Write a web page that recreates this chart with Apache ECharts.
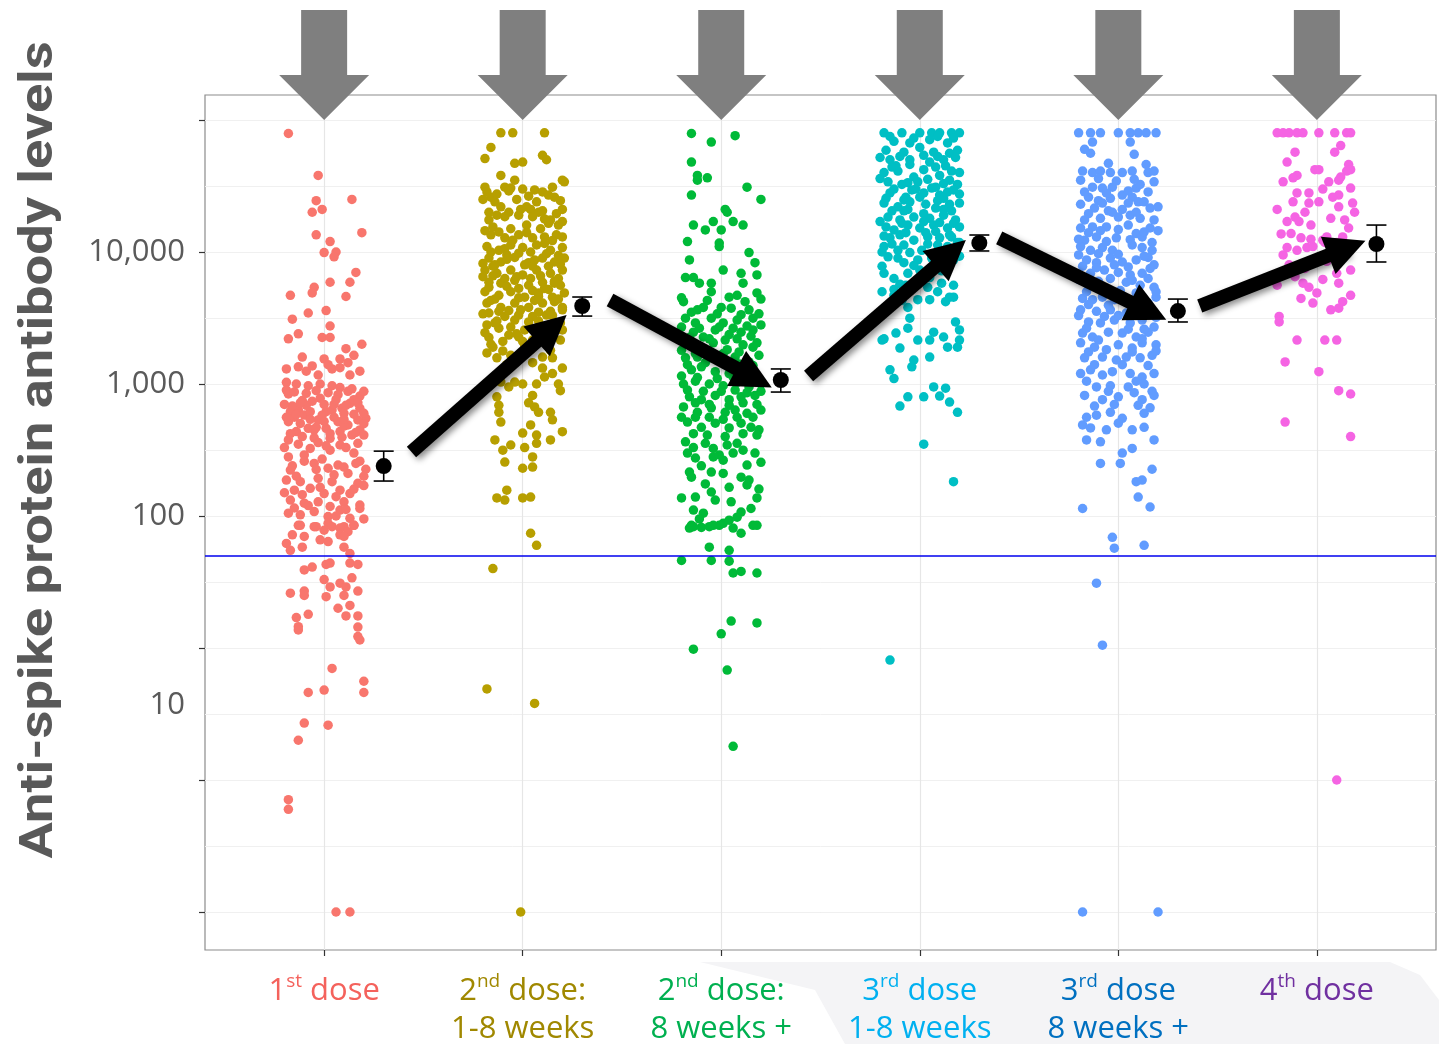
<!DOCTYPE html>
<html><head><meta charset="utf-8">
<script src="https://cdn.jsdelivr.net/npm/echarts@6/dist/echarts.min.js"></script>
<style>html,body{margin:0;padding:0;background:#fff}#c{width:1439px;height:1044px}</style>
</head><body><div id="c"></div>
<script>
// ---------- DATA ----------
const categories = [1, 2, 3, 4, 5, 6];
const doseNum = ['1', '2', '2', '3', '3', '4'];
const doseSup = ['st', 'nd', 'nd', 'rd', 'rd', 'th'];
const doseWord = [' dose', ' dose:', ' dose:', ' dose', ' dose', ' dose'];
const doseTiming = ['', '1-8 weeks', '8 weeks +', '1-8 weeks', '8 weeks +', ''];
const yTickValues = [10000, 1000, 100, 10];
const yTickTexts = ['10,000', '1,000', '100', '10'];
const yTitle = 'Anti-spike protein antibody levels';
const threshold = 50;

// jittered points: [offset from category, antibody level]
const g1 = [[-.18,79000],[-.03,38000],[-.04,24500],[-.01,21000],[-.06,20000],[.14,25000],[.19,14000],[-.04,13500],[.03,12000],[0,9900],[.06,10000],[.05,9200],[.16,7000],[.13,5900],[.03,5900],[-.05,5400],[-.06,4900],[-.17,4700],[.11,4600],[-.08,3450],[.01,3600],[-.16,3100],[.03,2750],[-.18,2200],[-.13,2400],[-.01,2250],[.03,2250],[.19,2000],[.11,1850],[.15,1650],[.08,1550],[-.11,1600],[0,1550],[-.13,1350],[-.06,1370],[.04,1300],[.08,1330],[-.03,1170],[.13,1170],[-.19,1030],[-.14,1000],[-.08,970],[-.02,1000],[.04,970],[.08,940],[.12,880],[.18,810],[-.18,840],[-.11,750],[-.02,780],
[-.17,617],[-.13,635],[-.10,582],[-.07,617],[-.03,534],[.01,617],[.04,635],[.09,655],[.13,714],[.18,655],[.21,550],[-.18,518],[-.12,503],[-.08,462],[.07,518],[.12,489],[.17,534],[.18,449],[-.14,436],[-.05,449],[.01,462],[.08,436],[.14,411],[-.18,377],[.03,388],[-.15,560],[-.01,580],[.1,600],[-.09,690],[.05,700],[.15,760],[-.16,680],[.2,600],[-.04,470],[.1,480],
[-.18,280],[-.07,325],[.03,315],[.08,345],[-.17,223],[-.05,250],[.02,230],[.07,243],[.12,210],[.21,226],[-.19,187],[-.12,182],[-.03,193],[.04,182],[.17,177],[-.15,157],[-.07,162],[0,148],[.08,157],[.13,148],[-.17,132],[-.10,125],[-.03,128],[.03,118],[.1,128],[.18,121],[-.18,105],[-.12,102],[-.05,108],[.02,99],[.08,111],[.13,96],[.18,114],[-.13,85],[-.05,83],[.02,88],[.1,83],[.15,85],[-.1,290],[.15,300],[-.01,270],[.18,260],[-.14,200],[.05,205],[.2,170],
[-.19,900],[-.15,870],[-.09,850],[-.04,890],[.02,860],[.07,830],[.14,920],[.2,880],[-.2,700],[-.12,720],[-.06,740],[0,700],[.06,760],[.11,690],[.17,720],[-.19,560],[-.14,590],[-.07,540],[0,520],[.05,560],[.1,540],[.15,590],[.2,500],[-.17,420],[-.11,400],[-.05,390],[.03,420],[.09,395],[.16,430],[.2,410],[-.2,330],[-.13,350],[-.03,360],[.01,340],[.11,330],[.17,355],[-.16,240],[-.1,260],[-.04,225],[.1,235],[.16,250],[.2,200],[-.2,150],[-.11,145],[-.02,165],[.06,140],[.15,160],[-.15,115],[-.08,120],[.06,100],[.11,112],[.2,95],[-.19,1300],[-.09,1250],[.02,1400],[.12,1450],[.18,1250],
[-.12,85],[-.04,83],[0,78],[.04,83],[.08,81],[.12,76],[.15,85],[.08,72],[.1,70],[-.16,72],[-.1,70],[-.19,62],[-.17,55],[-.11,58],[-.02,66],[.02,64],[.1,58],[.13,52],
[-.1,39],[-.06,41],[.01,43],[.03,44],[.13,44],[.17,43],[0,33],[.03,29],[.08,31],[.11,29],[.14,34],[-.17,26],[-.1,27],[.01,24.5],[.1,25],[.17,27],[-.1,25],[.07,20],[.13,21],[-.08,18],[-.14,17],[.11,17.5],[.17,17.5],[-.13,14.5],[-.13,13.7],[.17,14.4],[.17,12.2],[.18,11.5],
[.04,7.0],[.2,5.6],[.2,4.6],[-.08,4.6],[0,4.8],[-.1,2.7],[.02,2.6],[-.13,2.0],[-.18,.71],[-.18,.6],[.06,.1],[.13,.1]];

const g2 = [[-.11,80000],[-.05,80000],[.11,80000],[-.16,62000],[-.19,51000],[.10,54000],[.12,50000],[-.04,47000],[0,48000],[-.11,38000],[.20,35000],[.21,34000],[-.04,35000],[-.09,31000],[-.06,30500],[-.19,31000],[-.16,26000],[-.18,28500],[.06,29500],[.10,28500],[.15,31000],[.16,26000],[.20,21000],
[-.14,24000],[-.11,22000],[-.07,20000],[-.01,21000],[.02,22000],[.04,21000],[.08,20000],[.10,20500],[.14,17500],[-.17,17500],[.2,17000],[.02,16000],[-.06,15000],
[-.16,13500],[-.09,12800],[-.02,13500],[.05,12800],[.11,13000],[.17,13500],[.2,13000],
[-.18,11000],[-.12,10300],[-.06,11300],[0,10800],[.07,11300],[.14,10300],[.2,10800],
[-.17,9000],[-.11,8400],[-.04,9100],[.03,8300],[.10,9000],[.16,8400],[.21,9000],
[-.19,7300],[-.13,6900],[-.06,7300],[0,6700],[.07,7300],[.14,6900],[.2,7300],
[-.17,5900],[-.11,5800],[-.04,6100],[.03,5600],[.10,5900],[.16,5800],
[-.19,5000],[-.12,4700],[-.06,5000],[.01,4550],[.08,4900],[.15,4550],[.21,4900],
[-.18,4100],[-.11,3800],[-.04,4100],[.03,3800],[.10,4100],[.16,4200],[.2,3800],
[-.17,3450],[-.09,3250],[-.02,3330],[.05,3250],[.12,3330],[.2,3650],
[-.18,2800],[-.12,2650],[-.06,2700],[.01,2570],[.11,2700],[.19,2900],[.2,2570],
[-.17,2250],[-.10,2100],[-.02,2270],[.05,2150],[.12,2050],[.19,2150],
[-.18,1720],[-.13,1580],[-.06,1650],[.04,1820],[.10,1600],[.15,1580],
[.10,1320],[.20,1320],[.11,1130],[.15,1200],[.18,1000],[.19,890],
[-.11,1035],[-.07,950],[-.04,1035],[0,1000],[.07,1000],[.05,820],
[-.13,800],[-.12,690],[-.12,610],
[.03,720],[.06,670],[.08,610],[.14,610],[.15,535],
[-.11,515],[.04,490],[0,425],[.07,410],[.2,435],[.14,377],[.07,355],
[-.14,377],[-.10,315],[-.06,345],[.01,330],[.05,280],[-.09,256],[0,230],[.05,235],
[-.08,157],[-.13,137],[-.09,132],[0,137],[.04,139],
[-.15,15500],[.13,16500],[-.03,25000],[.07,24000],[-.13,19000],[.17,19500],[-.08,9500],[.12,9700],[-.15,7800],[.05,7800],[-.09,6300],[.18,6300],[-.02,5300],[.13,5200],[-.14,4400],[.06,4300],[-.07,3600],[.14,3550],[-.13,3000],[.08,3000],[-.03,2400],[.15,2400],[-.15,1900],[.01,1950],[-.08,1400],[.05,1450],
[-.2,25000],[-.13,27500],[-.07,29000],[0,30000],[.03,26500],[.13,27000],[.19,24500],[-.17,20000],[-.09,18500],[-.02,19000],[.05,18500],[.11,17800],[.18,16000],[-.19,14500],[-.12,14200],[-.05,12300],[.02,14000],[.09,15000],[.15,12200],[-.16,10000],[-.09,10600],[-.02,9800],[.04,10000],[.11,11600],[.18,9400],[-.2,8200],[-.14,8000],[-.08,8800],[.01,8000],[.06,8700],[.13,7800],[.19,8100],[-.2,6500],[-.15,6600],[-.03,6500],[.04,6300],[.09,6600],[.16,6000],[-.17,5400],[-.08,5500],[.05,5100],[.11,5300],[.19,5600],[-.16,4300],[-.02,4500],[.08,4600],[.18,4400],[-.2,3400],[-.12,3550],[-.01,3650],[.08,3500],[.15,3300],[-.14,2900],[-.04,3050],[.03,2950],[.16,2800],[-.19,2450],[-.07,2350],[.09,2450],[-.16,2000],[0,2100],[.09,2200],[-.1,1780],[.14,1800],
[.04,74],[.07,60],[-.15,40],[-.18,4.9],[.06,3.8],[-.01,.1]];

const g3 = [[-.15,79000],[.07,76000],[-.05,68000],[-.15,48000],[-.12,38000],[-.12,35000],[-.07,36500],[.13,31000],[-.15,27000],[.2,25000],[.02,21000],[.03,20000],
[-.14,16000],[-.08,14700],[-.04,17000],[0,14700],[.06,17000],[.11,16000],
[-.17,12000],[-.01,11700],[-.01,11000],[.14,9900],[.17,8300],[-.16,8700],
[.01,7300],[.1,6900],[.18,6700],[-.18,6400],[-.14,6400],[-.11,5800],[-.05,5800],[.11,5800],
[.18,4900],[.2,4400],[.08,4700],[.04,4550],[-.05,5000],
[-.19,4200],[-.12,3650],[-.09,3800],[0,3800],[.05,3750],[.14,3650],
[-.18,3150],[-.13,2900],[-.05,3150],[.01,2900],[.08,3050],[.16,3150],
[-.14,2470],[-.09,2270],[-.03,2570],[.04,2370],[.10,2470],[.16,2570],[.18,2050],
[-.17,2050],[-.10,1870],[-.04,2050],[.03,1820],[.11,1980],[.16,1900],
[-.18,1580],[-.12,1600],[-.05,1580],[0,1520],[.07,1600],[.14,1470],
[-.15,1280],[-.10,1350],[-.03,1240],[.04,1200],[.11,1280],[.17,1200],
[-.19,1000],[-.13,1050],[-.06,1000],[.01,970],[.08,1030],[.14,950],[.2,1000],
[-.16,800],[-.10,760],[-.03,820],[.04,760],[.10,800],[.17,820],
[-.19,670],[-.12,610],[-.05,660],[.02,610],[.07,635],[.13,600],[.2,635],
[-.17,515],[-.10,470],[-.03,505],[.04,465],[.10,505],[.15,470],[.19,450],
[-.18,365],[-.14,330],[-.08,355],[-.04,325],[.03,345],[.08,355],[.11,315],
[-.17,300],[-.13,275],[-.04,280],[.01,265],[.2,255],[.13,243],
[-.16,215],[-.15,197],[-.05,215],[.01,210],[.10,197],[.14,187],[.13,172],
[-.2,137],[-.13,139],[-.05,152],[-.03,132],[.05,128],[.18,137],
[-.14,111],[-.09,105],[.10,107],[.15,114],
[-.15,85],[-.1,82],[-.04,85],[.01,88],[.06,81],[.16,85],
[-.16,81],[-.14,83],[-.06,83],[-.01,85],[.04,93],[.10,74],[.18,85],
[-.2,4500],[-.07,4300],[.12,4200],[-.15,3500],[-.02,3400],[.1,3350],[.19,3400],[-.2,2700],[-.11,2650],[-.01,2700],[.06,2650],[.13,2750],[.2,2800],[-.16,2250],[-.06,2200],[.02,2150],[.08,2200],[.15,2300],[-.2,1800],[-.13,1700],[-.07,1750],[.01,1700],[.09,1750],[.19,1650],[-.17,1400],[-.08,1450],[.02,1400],[.09,1420],[.16,1380],[-.2,1150],[-.12,1120],[-.02,1100],[.06,1130],[.14,1100],[-.17,900],[-.09,880],[0,880],[.07,900],[.13,860],[.2,880],[-.13,720],[-.06,700],[.04,690],[.11,720],[.18,700],[-.2,560],[-.13,560],[-.06,560],[.01,540],[.08,560],[.16,560],[-.14,420],[-.07,410],[.02,400],[.11,420],[.18,410],[-.1,240],[-.01,290],[.06,300],[.17,300],[-.08,175],[.04,165],[.19,160],[-.11,95],[.08,98],
[-.06,58],[.04,55],[-.2,46],[-.05,46],[.04,45.5],[.06,37],[.1,38],[.18,37],
[.05,16],[.18,15.5],[0,12.8],[-.14,9.8],[.03,6.8],[.06,1.8]];

const g4 = [[-.18,80000],[-.09,80000],[0,80000],[.06,80000],[.10,80000],[.16,80000],[.2,80000],
[-.13,69000],[-.05,67000],[.05,71000],[.14,67000],
[-.17,59000],[-.08,57000],[0,62000],[.07,57000],[.15,56000],[.19,59000],
[-.15,50000],[-.05,50000],[.05,48000],[.12,50000],
[-.18,40000],[-.11,41000],[-.03,37000],[.02,42000],[.1,38000],[.16,41000],[.2,40000],
[-.16,34000],[-.09,32500],[-.01,34000],[.08,31000],[.15,35000],[.19,32500],
[-.15,28000],[-.07,26000],[.02,28000],[.10,27000],[.17,29500],
[-.18,23500],[-.11,22000],[-.05,24000],[.03,23000],[.09,24500],[.15,23000],[.2,23500],
[-.16,18400],[-.10,17500],[-.03,18400],[.05,18000],[.12,19000],[.18,17500],
[-.17,15500],[-.13,14700],[-.06,16000],[0,15200],[.07,16000],[.14,15200],[.2,15500],
[-.15,12800],[-.10,13500],[-.03,12300],[.04,13000],[.10,12800],[.16,13000],[.2,11800],
[-.19,10000],[-.11,10300],[-.05,9900],[.01,10300],[.09,11300],[.14,11000],[.19,11800],
[-.08,8300],[-.01,8700],[.06,9000],[.12,8300],[.17,8700],
[-.18,6900],[-.13,6300],[-.06,6900],[0,7300],[.07,7600],
[-.19,5000],[-.13,5200],[-.07,5600],[0,6100],[.05,6400],
[.09,5000],[.15,4550],[.17,5600],[.11,5800],[.04,5400],
[-.15,4100],[-.06,3800],[-.01,4350],[.05,4350],[.13,4200],[.17,4550],
[-.05,3150],[.18,2950],
[-.12,2430],[-.06,2650],[.07,2470],[.12,2270],[.2,2570],[.2,2150],
[-.18,2200],[-.19,2150],[-.01,2150],[.05,2150],[.14,1900],[.19,1900],
[-.10,1870],[.05,1600],[-.03,1520],[-.04,1350],
[-.15,1280],[-.13,1100],
[.07,950],[.13,930],[.10,810],[.15,730],[.19,610],
[-.06,800],[.02,800],[-.10,680],
[-.12,45000],[.08,44000],[-.02,30000],[.12,21000],[-.08,20500],[.03,14000],[-.14,11500],[.11,7200],[-.1,5700],
[-.15,75000],[-.03,73000],[.09,75000],[.17,73000],[-.2,52000],[-.1,53000],[.02,54000],[.09,53000],[.18,52000],[-.14,44000],[-.05,46000],[.13,45000],[-.2,36000],[-.06,33500],[.04,35500],[.12,33000],[-.13,30000],[-.04,29500],[.06,30500],[.14,28500],[.2,27500],[-.17,25500],[-.08,24800],[0,26000],[.12,25500],[-.14,20500],[-.06,21000],[.02,19500],[.08,21500],[.16,20500],[-.2,17000],[-.09,16500],[.02,17000],[.1,16700],[.17,16500],[-.18,13200],[-.07,14000],[.08,14300],[.15,13500],[-.18,11000],[-.08,11300],[.04,11500],[.18,10300],[-.16,9200],[-.11,9000],[.2,9300],[-.19,7800],[-.03,7900],[.13,7500],[-.13,4700],[-.09,4300],
[.02,350],[.17,182],[-.15,8.1]];

const g5 = [[-.20,80000],[-.14,80000],[-.09,80000],[0,80000],[.06,80000],[.10,80000],[.14,80000],[.19,80000],
[-.13,68000],[.06,68000],[-.14,56000],
[-.18,41000],[-.13,40000],[-.09,41000],[-.04,40000],[.02,40000],[.07,41000],[.15,40000],[.18,41000],
[-.13,31000],[-.08,30500],[-.03,31000],[.09,30500],[.11,32500],
[-.15,26000],[-.10,24500],[-.04,25500],[.02,27000],[.07,26000],[.1,24000],
[-.12,21500],[-.05,20500],[.02,21000],[.16,21500],[.2,22000],
[-.17,17500],[-.09,18000],[0,18400],[.06,19000],[.11,18000],[.18,17500],
[-.19,15200],[-.13,15500],[-.06,15500],[.05,16000],[.09,13800],[.16,15200],
[-.17,12300],[-.11,13000],[-.01,12800],[.12,13000],
[-.19,11000],[-.14,10300],[-.08,10800],[-.03,10300],[.07,11300],[.12,10800],[.17,10300],
[-.16,8700],[-.11,8300],[-.04,9000],[.02,8400],[.09,8700],[.15,9100],[.18,8000],
[-.14,6900],[-.07,7300],[0,7000],[.06,6700],[.12,6900],
[-.16,5800],[.04,5900],[.11,5600],[.18,5400],
[-.18,4450],[-.13,4350],[-.08,4550],[-.02,4350],[.03,4550],[.12,4450],[.19,4550],
[-.19,3650],[-.11,3550],[-.04,3650],[.04,3450],[.11,3650],[.16,3750],
[-.15,2950],[-.09,2900],[-.02,3050],[.06,2900],[.12,3050],[.18,2700],
[-.18,2430],[-.13,2270],[-.05,2470],[.02,2430],[.09,2270],[.15,2470],
[-.19,2050],[-.12,1900],[-.06,1820],[0,1980],[.07,1870],[.12,2050],[.19,1980],
[-.17,1580],[-.08,1600],[-.01,1520],[.04,1600],[.11,1580],[.17,1650],
[-.19,1200],[-.14,1280],[-.08,1170],[-.03,1240],[.06,1200],[.12,1130],[.18,1200],
[-.11,950],[-.04,970],[.05,950],[.13,1000],[.17,880],
[-.17,820],[-.08,760],[0,800],[.12,760],[.18,820],
[-.16,560],[-.11,580],[-.04,610],[.02,550],[.13,600],[.16,660],
[-.18,490],[-.14,465],[-.06,450],[0,505],[.07,450],[.13,470],
[-.16,377],[-.09,365],[.18,377],[.02,300],[.07,325],
[-.17,60000],[.08,55000],[-.05,47000],[.14,46000],[-.19,35000],[-.1,36000],[-.01,34500],[.08,35500],[.18,34000],[-.17,28500],[-.06,28000],[.05,29000],[.15,28500],[-.19,23000],[-.08,23500],[.05,23500],[.13,24000],[-.15,19500],[-.03,20000],[.09,20000],[-.15,14000],[-.09,14500],[0,14800],[.13,14200],[.2,14500],[-.2,12500],[-.06,12000],[.06,12400],[.17,11800],[-.2,9500],[-.1,9700],[0,9600],[.13,9300],[-.18,7800],[-.11,7600],[-.02,8000],[.05,7700],[.16,7500],[-.2,6200],[-.1,6000],[-.04,6300],[.07,6100],[.15,6300],[-.16,5000],[-.06,5200],[.01,5100],[.09,4900],[.19,5000],[-.15,4000],[-.05,3950],[.07,4000],[.15,4100],[-.2,3300],[-.07,3250],[0,3300],[.09,3300],[.19,3200],[-.16,2650],[.05,2600],[.13,2600],[-.1,2150],[.12,2200],[-.15,1750],[.07,1750],[.19,1780],[-.12,1400],[.02,1400],[.15,1380],[-.16,1050],[.09,1050],[-.05,880],[.08,860],[-.12,680],[.1,690],[-.02,700],
[-.09,250],[.01,250],[.17,226],[.09,182],[.12,187],[.1,139],[.16,117],[-.18,114],
[-.03,69],[-.02,57],[.13,60],[-.11,31],[-.08,10.5],[-.18,.1],[.2,.1]];

const g6 = [[-.2,80000],[-.17,80000],[-.14,80000],[-.1,80000],[.01,80000],[.09,80000],[.15,80000],[.17,80000],
[-.11,57000],[.09,57000],
[-.01,42000],[.01,42000],[.16,46000],[.15,41000],[.12,37000],[.17,42000],
[-.10,38000],[-.12,36500],[-.17,34000],[.06,34000],[.11,35000],
[-.1,28000],[-.04,28000],[.17,30500],[.11,27000],
[-.12,24000],[-.04,23500],[.01,24000],[.11,22000],[.18,23500],[-.2,21000],
[-.11,18400],[-.09,17000],[-.03,16000],[.07,18000],[.14,17500],[.16,15200],
[-.18,13700],[-.13,13800],[-.08,12800],[.03,12300],[.05,13000],[.1,11800],[.15,11000],
[-.15,10800],[-.10,10300],[-.05,10800],[-.02,11000],[.04,11800],
[-.14,8000],[-.06,7500],[.02,9000],[-.11,6500],[.05,8500],[-.17,9500],[-.13,7000],[.03,6200],
[-.2,5600],[-.07,5800],[-.04,5400],[0,4900],[-.02,4100],[-.08,4450],
[.1,6900],[.11,5800],[.17,7300],[.17,4700],[.13,4200],[.11,3750],[.07,3650],
[-.19,3250],[-.19,2950],
[-.07,80000],[.12,64000],[-.15,48000],[.03,30000],[-.06,20000],[.13,13000],[-.03,12500],[.08,26000],[-.15,17000],[.19,20000],
[-.10,2150],[.04,2150],[.1,2150],
[-.16,1470],[.01,1240],[.11,890],[.17,840],[-.16,515],[.17,400],[.1,1.0]];

// group means with error bars
const meanOffset = 0.3;
const means = [239, 3900, 1072, 11700, 3570, 11500];
const meanLo = [184, 3270, 869, 10180, 2950, 8400];
const meanHi = [310, 4560, 1300, 13450, 4400, 16000];

// trend arrows between groups: [x1, y1, x2, y2] in data units
const trendArrows = [
  [1.44, 305, 2.146, 2650],
  [2.44, 4330, 3.166, 1110],
  [3.44, 1150, 4.156, 9800],
  [4.40, 12800, 5.151, 3570],
  [5.41, 3900, 6.151, 10700]
];
// dose markers point down to the top of the axis
const doseMarkerLevel = 100000;

// ---------- STYLE ----------
const pointColors = ['#F8766D', '#B79F00', '#00BA38', '#00BFC4', '#619CFF', '#F564E3'];
const labelColors = ['#F4625C', '#A08800', '#00B050', '#00B0F0', '#0070C0', '#7030A0'];
const FONT = "'Open Sans', 'DejaVu Sans', sans-serif";

const rich = {};
labelColors.forEach((c, i) => {
  rich['m' + i] = { color: c, fontSize: 31, fontFamily: FONT, lineHeight: 38 };
  rich['s' + i] = { color: c, fontSize: 19, fontFamily: FONT, lineHeight: 20, verticalAlign: 'top' };
});

const groups = [g1, g2, g3, g4, g5, g6];
const scatterSeries = groups.map((g, i) => ({
  type: 'scatter', xAxisIndex: 1, yAxisIndex: 1, silent: true, z: 2,
  symbolSize: 9.5, itemStyle: { color: pointColors[i], opacity: 1 },
  data: g.map(p => [categories[i] + p[0], p[1]])
}));

const chart = echarts.init(document.getElementById('c'), null, { renderer: 'canvas', width: 1439, height: 1044 });

const option = {
  backgroundColor: '#ffffff',
  animation: false,
  grid: [
    { left: 205, right: 3, top: 95, bottom: 94, show: true, borderColor: '#8c8c8c', borderWidth: 1.2, outerBoundsMode: 'none', containLabel: false },
    { left: 205, right: 3, top: 120, bottom: 132, show: false, outerBoundsMode: 'none', containLabel: false }
  ],
  xAxis: [
    {
      gridIndex: 0, type: 'value', min: 0.4, max: 6.6,
      axisLine: { show: false },
      axisTick: { show: true, customValues: categories, length: 6, lineStyle: { color: '#333', width: 1.2 } },
      axisLabel: {
        show: true, customValues: categories, margin: 22, verticalAlign: 'top',
        formatter: v => {
          const i = Math.round(v) - 1;
          let s = `{m${i}|${doseNum[i]}}{s${i}|${doseSup[i]}}{m${i}|${doseWord[i]}}`;
          if (doseTiming[i]) s += `\n{m${i}|${doseTiming[i]}}`;
          return s;
        },
        rich: rich
      },
      splitLine: { show: true, lineStyle: { color: '#e6e6e6', width: 1.2 } }
    },
    { gridIndex: 1, type: 'value', min: 0.4, max: 6.6, show: false }
  ],
  yAxis: [
    { gridIndex: 0, type: 'value', min: 0, max: 1, show: false },
    {
      gridIndex: 1, type: 'log', logBase: 10, min: 0.1, max: 100000,
      axisLine: { show: false },
      axisTick: { show: true, length: 6, lineStyle: { color: '#333', width: 1.2 } },
      axisLabel: {
        show: true, margin: 20, color: '#5a5a5a', fontSize: 31, fontFamily: FONT, lineHeight: 38,
        formatter: v => {
          const idx = yTickValues.findIndex(t => Math.abs(Math.log10(v) - Math.log10(t)) < 1e-6);
          if (idx < 0) return '';
          return yTickValues[idx] === 10 ? '\n\n\n' + yTickTexts[idx] : yTickTexts[idx];
        }
      },
      splitLine: { show: true, lineStyle: { color: '#e6e6e6', width: 1.2 } }
    },
    {
      gridIndex: 1, type: 'value', min: -1, max: 5, interval: 0.5,
      axisLine: { show: false }, axisTick: { show: false }, axisLabel: { show: false },
      splitLine: { show: true, lineStyle: { color: '#f0f0f0', width: 1 } }
    }
  ],
  graphic: [
    {
      type: 'polygon', z: -100, silent: true,
      shape: { points: [[700, 962], [1390, 962], [1420, 975], [1439, 1000], [1439, 1044], [845, 1044], [815, 990]] },
      style: { fill: '#f4f4f6' }
    },
    {
      type: 'text', x: 40, y: 450, rotation: Math.PI / 2, scaleX: 1.18, z: 10, silent: true,
      style: {
        text: yTitle, font: "bold 46px Roboto, 'DejaVu Sans', sans-serif", fill: '#595959',
        textAlign: 'center', textVerticalAlign: 'middle', align: 'center', verticalAlign: 'middle'
      }
    }
  ],
  series: [
    ...scatterSeries,
    {
      type: 'line', xAxisIndex: 1, yAxisIndex: 1, data: [], z: 3, silent: true,
      markLine: {
        silent: true, symbol: 'none', label: { show: false },
        lineStyle: { color: '#0000ee', width: 1.5, type: 'solid', opacity: 1 },
        data: [{ yAxis: threshold }]
      }
    },
    {
      type: 'lines', coordinateSystem: 'cartesian2d', xAxisIndex: 1, yAxisIndex: 1, z: 5, silent: true,
      symbol: ['none', 'triangle'], symbolSize: 40,
      lineStyle: { color: '#000', width: 14, opacity: 1, shadowBlur: 6, shadowColor: 'rgba(0,0,0,0.45)', shadowOffsetX: 3, shadowOffsetY: 3 },
      data: trendArrows.map(a => ({ coords: [[a[0], a[1]], [a[2], a[3]]] }))
    },
    {
      type: 'custom', xAxisIndex: 1, yAxisIndex: 1, z: 6, silent: true,
      data: means.map((m, i) => [categories[i] + meanOffset, meanLo[i], meanHi[i]]),
      encode: { x: 0, y: [1, 2] },
      renderItem: (params, api) => {
        const x = api.value(0);
        const p1 = api.coord([x, api.value(1)]);
        const p2 = api.coord([x, api.value(2)]);
        const w = 10, st = { stroke: '#000', lineWidth: 1.6 };
        return {
          type: 'group', children: [
            { type: 'line', shape: { x1: p1[0], y1: p1[1], x2: p2[0], y2: p2[1] }, style: st },
            { type: 'line', shape: { x1: p1[0] - w, y1: p1[1], x2: p1[0] + w, y2: p1[1] }, style: st },
            { type: 'line', shape: { x1: p2[0] - w, y1: p2[1], x2: p2[0] + w, y2: p2[1] }, style: st }
          ]
        };
      }
    },
    {
      type: 'scatter', xAxisIndex: 1, yAxisIndex: 1, z: 7, silent: true,
      symbolSize: 16, itemStyle: { color: '#000', opacity: 1 },
      data: means.map((m, i) => [categories[i] + meanOffset, m])
    },
    {
      type: 'scatter', xAxisIndex: 1, yAxisIndex: 1, z: 10, silent: true, clip: false,
      symbol: 'path://M22,0 L68,0 L68,65 L90,65 L45,110 L0,65 L22,65 Z',
      symbolKeepAspect: false, symbolSize: [90, 110], symbolOffset: [0, -55],
      itemStyle: { color: '#7f7f7f', opacity: 1 },
      data: categories.map(c => [c, doseMarkerLevel])
    }
  ]
};
chart.setOption(option);
</script>
</body></html>
